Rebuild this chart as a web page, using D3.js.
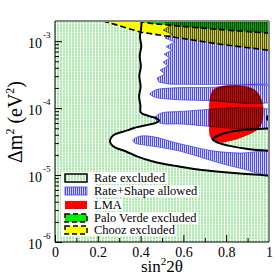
<!DOCTYPE html>
<html>
<head>
<meta charset="utf-8">
<script src="https://cdn.jsdelivr.net/npm/d3@7"></script>
<style>
body{margin:0;background:#fff}
text{font-family:"Liberation Serif","Times New Roman",serif;fill:#000}
</style>
</head>
<body>
<svg id="chart" width="277" height="277"></svg>
<script>
// axis ticks
const xTicks=[0,0.2,0.4,0.6,0.8,1]
const xMinor=[0.1,0.3,0.5,0.7,0.9]
const yTicks=[1e-6,1e-5,1e-4,1e-3]
const yTickExp=["-6","-5","-4","-3"]

// rate-only contour, left branch + nose + lower branch  [sin^2 2theta, dm2]
const rateEdge=[[0.405,2.0e-3],[0.402,1.5e-3],[0.397,1.15e-3],[0.403,8.5e-4],[0.396,6.0e-4],
  [0.401,4.2e-4],[0.394,3.0e-4],[0.400,2.1e-4],[0.393,1.5e-4],[0.399,1.1e-4],[0.401,8.6e-5],
  [0.44,7.6e-5],[0.475,7.0e-5],[0.486,6.5e-5],[0.47,6.0e-5],[0.42,5.5e-5],[0.383,5.2e-5],
  [0.35,4.8e-5],[0.313,4.4e-5],[0.271,3.9e-5],[0.257,3.3e-5],[0.262,2.9e-5],[0.28,2.6e-5],
  [0.332,2.25e-5],[0.383,1.9e-5],[0.45,1.62e-5],[0.537,1.41e-5],[0.62,1.28e-5],[0.70,1.18e-5],
  [0.85,1.06e-5],[1.0,9.8e-6]]
// rate-only contour, tongue entering from the right
const rateTongue=[[1.0,2.3e-5],[0.90,2.45e-5],[0.81,2.75e-5],[0.755,3.1e-5],[0.736,3.45e-5],
  [0.76,3.85e-5],[0.832,4.5e-5],[0.92,4.8e-5],[1.0,4.95e-5]]

// rate+shape allowed islands
const shapeBand1=[[0.500,2.1e-3],[0.537,1.68e-3],[0.505,1.46e-3],[0.547,1.27e-3],[0.514,1.11e-3],
  [0.561,9.7e-4],[0.519,8.3e-4],[0.547,7.3e-4],[0.509,6.4e-4],[0.537,5.6e-4],[0.505,4.86e-4],
  [0.528,4.24e-4],[0.491,3.69e-4],[0.514,3.23e-4],[0.477,2.81e-4],[0.486,2.45e-4],[0.537,2.28e-4],
  [0.818,2.25e-4],[1.02,2.28e-4],[1.02,2.1e-3]]
const shapeBand2=[[0.444,1.62e-4],[0.47,1.86e-4],[0.537,1.99e-4],[0.70,2.03e-4],[1.02,2.0e-4],
  [1.02,1.3e-4],[0.70,1.3e-4],[0.537,1.36e-4],[0.47,1.45e-4]]
const shapeBand3=[[0.467,7.1e-5],[0.491,8.3e-5],[0.584,8.9e-5],[1.02,8.9e-5],[1.02,5.5e-5],
  [0.584,5.8e-5],[0.491,6.0e-5]]
const shapeBand4=[[0.364,3.33e-5],[0.397,3.8e-5],[0.467,3.7e-5],[0.537,3.2e-5],[0.631,2.7e-5],
  [0.743,2.28e-5],[0.864,2.13e-5],[1.02,2.13e-5],[1.02,1.035e-5],[0.864,1.27e-5],[0.771,1.51e-5],
  [0.678,1.86e-5],[0.584,2.28e-5],[0.491,2.6e-5],[0.421,2.8e-5],[0.374,3.0e-5]]

// LMA solution
const lma=[[0.738,1.86e-4],[0.771,2.11e-4],[0.818,2.2e-4],[0.888,2.13e-4],[0.935,1.86e-4],
  [0.958,1.51e-4],[0.972,1.11e-4],[0.972,7.1e-5],[0.963,5.6e-5],[0.944,4.7e-5],[0.902,3.95e-5],
  [0.855,3.45e-5],[0.794,3.1e-5],[0.748,3.1e-5],[0.724,3.8e-5],[0.720,5.6e-5],[0.720,9.3e-5],
  [0.724,1.41e-4]]

// reactor limits
const chooz=[[0.224,2.0e-3],[0.28,1.78e-3],[0.35,1.52e-3],[0.402,1.36e-3],[0.584,1.11e-3],
  [0.771,9.0e-4],[1.0,7.3e-4]]
const paloVerde=[[0.39,2.0e-3],[0.45,1.84e-3],[0.63,1.62e-3],[0.82,1.45e-3],[1.0,1.32e-3]]

const bestFit=[1.0,7.1e-5]

const legendLabels=["Rate excluded","Rate+Shape allowed","LMA","Palo Verde excluded","Chooz excluded"]

const svg=d3.select("#chart")
const x=d3.scaleLinear().domain([0,1]).range([55,269])
const y=d3.scaleLog().domain([1e-6,2e-3]).range([242,21])
const [x0,x1]=x.domain(), [y0,y1]=y.domain()

const defs=svg.append("defs")
const gp=defs.append("pattern").attr("id","rateHatch").attr("patternUnits","userSpaceOnUse")
  .attr("width",3).attr("height",3)
gp.append("rect").attr("width",3).attr("height",3).attr("fill","#fff")
gp.append("rect").attr("width",2).attr("height",3).attr("fill","#a9eca9")
gp.append("rect").attr("y",2).attr("width",3).attr("height",1).attr("fill","#fff").attr("opacity",0.45)
const bp=defs.append("pattern").attr("id","shapeHatch").attr("patternUnits","userSpaceOnUse")
  .attr("width",2).attr("height",2)
bp.append("rect").attr("width",1).attr("height",2).attr("fill","#4d4dff")
bp.append("rect").attr("x",1).attr("width",1).attr("height",2).attr("fill","#d2d2ff")
defs.append("clipPath").attr("id","plotClip").append("rect")
  .attr("x",x(x0)).attr("y",y(y1)).attr("width",x(x1)-x(x0)).attr("height",y(y0)-y(y1))

const smooth=d3.line().x(d=>x(d[0])).y(d=>y(d[1])).curve(d3.curveCatmullRom)
const straight=d3.line().x(d=>x(d[0])).y(d=>y(d[1]))
const closedSmooth=d3.line().x(d=>x(d[0])).y(d=>y(d[1])).curve(d3.curveCatmullRomClosed)

const plot=svg.append("g").attr("clip-path","url(#plotClip)").style("isolation","isolate")

// rate excluded background
plot.append("rect").attr("x",x(x0)).attr("y",y(y1)).attr("width",x(x1)-x(x0)).attr("height",y(y0)-y(y1))
  .attr("fill","url(#rateHatch)")
// allowed by rate (white)
plot.append("path")
  .attr("d",smooth(rateEdge)+smooth(rateTongue).replace(/^M/,"L")+"L"+x(x1)+","+y(y1)+"Z")
  .attr("fill","#fff")

// Chooz / Palo Verde
plot.append("path").attr("d",straight(chooz.concat([[x1,y1]]))+"Z").attr("fill","#ffff00")
plot.append("path").attr("d",straight(paloVerde.concat([[x1,y1]]))+"Z").attr("fill","#00cc00")

// LMA
plot.append("path").attr("d",closedSmooth(lma)).attr("fill","#ff0000")

// rate contour lines
plot.selectAll("path.rate").data([rateEdge,rateTongue]).enter().append("path")
  .attr("class","rate").attr("d",smooth).attr("fill","none").attr("stroke","#000").attr("stroke-width",2)

// rate+shape allowed
const bands=[shapeBand1,shapeBand2,shapeBand3,shapeBand4]
plot.selectAll("path.shape").data(bands).enter().append("path").attr("class","shape")
  .attr("d",(d,i)=>i===0?straight(d)+"Z":closedSmooth(d))
  .attr("fill","url(#shapeHatch)").attr("stroke","#3030ff").attr("stroke-width",0.7)
  .style("mix-blend-mode","multiply")

// reactor limit dashed boundaries
plot.selectAll("path.reactor").data([chooz,paloVerde]).enter().append("path").attr("class","reactor")
  .attr("d",straight).attr("fill","none").attr("stroke","#000").attr("stroke-width",1.6)
  .attr("stroke-dasharray","6,3")

plot.append("circle").attr("cx",x(bestFit[0])).attr("cy",y(bestFit[1])).attr("r",3).attr("fill","#000")

// axes (ticks inside)
const minorY=[]
for(let e=-6;e<-2;e++) for(let m=2;m<=9;m++){const v=m*Math.pow(10,e); if(v<y1) minorY.push(v)}
svg.append("g").attr("transform","translate("+x(x0)+",0)")
  .call(d3.axisLeft(y).tickValues(minorY).tickSize(-4).tickFormat(""))
svg.append("g").attr("transform","translate("+x(x0)+",0)")
  .call(d3.axisLeft(y).tickValues(yTicks).tickSize(-7).tickFormat(""))
svg.append("g").attr("transform","translate(0,"+y(y0)+")")
  .call(d3.axisBottom(x).tickValues(xMinor).tickSize(-4).tickFormat(""))
const xa=svg.append("g").attr("transform","translate(0,"+y(y0)+")")
  .call(d3.axisBottom(x).tickValues(xTicks).tickSize(-7).tickPadding(5).tickFormat(d=>d===0||d===1?d:d.toFixed(1)))
xa.selectAll("text").style("font-family","'Liberation Serif',serif").style("font-size","14px")
svg.selectAll(".domain").remove()
svg.selectAll(".tick line").attr("stroke","#000")

// y tick labels 10^n
svg.selectAll("text.ylab").data(yTicks).enter().append("text").attr("class","ylab")
  .attr("x",42).attr("y",d=>y(d)+7).attr("text-anchor","end").style("font-size","14px").text("10")
svg.selectAll("text.yexp").data(yTicks).enter().append("text").attr("class","yexp")
  .attr("x",43).attr("y",d=>y(d)-3).style("font-size","9px").text((d,i)=>yTickExp[i])

// frame
svg.append("line").attr("x1",x(x0)).attr("x2",x(x1)).attr("y1",y(y1)).attr("y2",y(y1)).attr("stroke","#888").attr("stroke-width",2)
svg.append("line").attr("x1",x(x1)).attr("x2",x(x1)).attr("y1",y(y1)).attr("y2",y(y0)).attr("stroke","#888").attr("stroke-width",2)
svg.append("line").attr("x1",x(x0)).attr("x2",x(x0)).attr("y1",y(y1)).attr("y2",y(y0)).attr("stroke","#000").attr("stroke-width",1)
svg.append("line").attr("x1",x(x0)).attr("x2",x(x1)).attr("y1",y(y0)).attr("y2",y(y0)).attr("stroke","#000").attr("stroke-width",1)

// axis titles
const xt=svg.append("text").attr("x",162).attr("y",272).attr("text-anchor","middle").style("font-size","17px")
xt.append("tspan").text("sin")
xt.append("tspan").attr("dy",-7).style("font-size","11px").text("2")
xt.append("tspan").attr("dy",7).text("2θ")
const yt=svg.append("text").attr("transform","translate(22,122) rotate(-90)").attr("text-anchor","middle").style("font-size","20px")
yt.append("tspan").text("Δm")
yt.append("tspan").attr("dy",-8).style("font-size","12px").text("2")
yt.append("tspan").attr("dy",8).text(" (eV")
yt.append("tspan").attr("dy",-8).style("font-size","12px").text("2")
yt.append("tspan").attr("dy",8).text(")")

// legend
const lg=svg.append("g")
lg.append("rect").attr("x",61).attr("y",172).attr("width",34).attr("height",64).attr("fill","#fff")
const rows=lg.selectAll("g.entry").data(legendLabels).enter().append("g").attr("class","entry")
  .attr("transform",(d,i)=>"translate(65,"+[178,191,205,218,230][i]+")")
rows.append("text").attr("x",29).attr("y",4).style("font-size","12.5px").text(d=>d)
rows.each(function(){
  const g=d3.select(this), b=g.select("text").node().getBBox()
  g.insert("rect","text").attr("x",b.x-1).attr("y",b.y+1).attr("width",b.width+2).attr("height",b.height-2).attr("fill","#fff")
})
const sw=[
  {fill:"url(#rateHatch)",stroke:"#000",w:1.5,dash:null},
  {fill:"url(#shapeHatch)",stroke:"#3030ff",w:0.7,dash:null},
  {fill:"#ff0000",stroke:"none",w:0,dash:null},
  {fill:"#00ee00",stroke:"#000",w:1.5,dash:"5,3"},
  {fill:"#ffff00",stroke:"#000",w:1.5,dash:"5,3"}]
rows.append("rect").attr("x",0).attr("y",-4).attr("width",22).attr("height",8)
  .attr("fill",(d,i)=>sw[i].fill).attr("stroke",(d,i)=>sw[i].stroke).attr("stroke-width",(d,i)=>sw[i].w)
  .attr("stroke-dasharray",(d,i)=>sw[i].dash)
</script>
</body>
</html>
